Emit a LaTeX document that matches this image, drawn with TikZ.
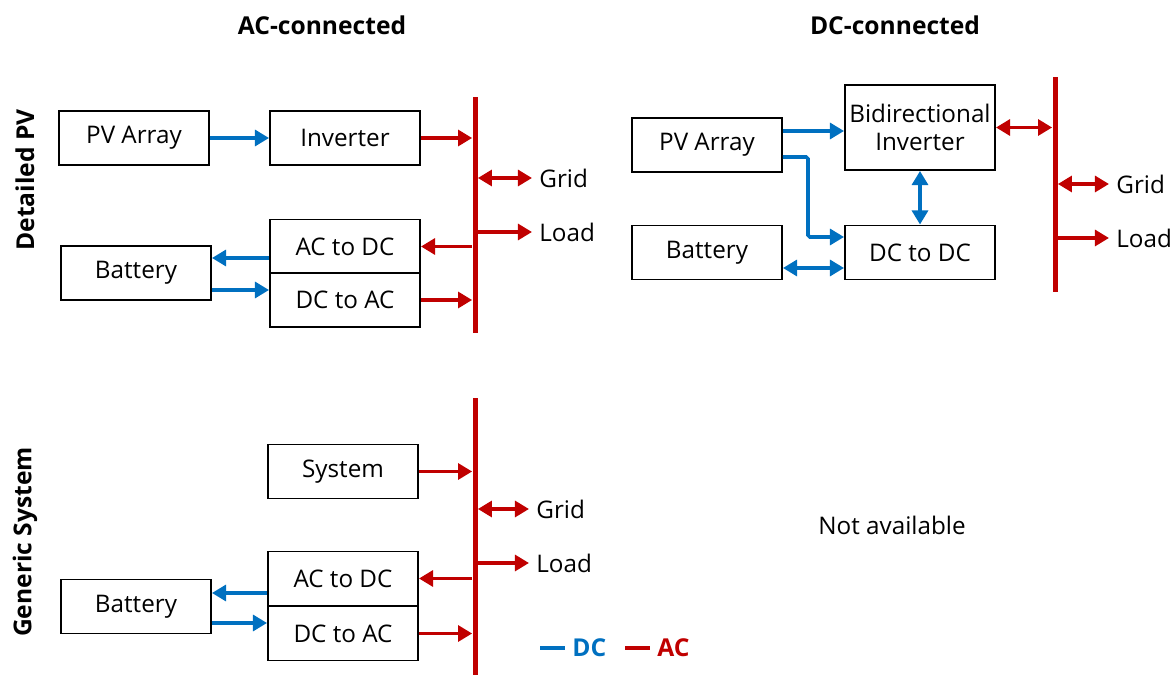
\documentclass[tikz,border=0pt]{standalone}
\usepackage{fontspec}
\setmainfont{Open Sans}
\usetikzlibrary{arrows.meta}
\definecolor{dcblue}{RGB}{0,112,192}
\definecolor{acred}{RGB}{192,0,0}
\begin{document}
\begin{tikzpicture}[x=0.02cm,y=-0.02cm,
  txt/.style={font=\fontsize{13.8}{16}\selectfont},
  blk/.style={draw=black,line width=1.1pt,minimum width=3cm,minimum height=1.08cm,inner sep=0pt,txt},
  busbar/.style={fill=acred,draw=none,minimum width=0.1cm,inner sep=0pt},
  hd/.style={font=\fontsize{14}{16}\selectfont\bfseries},
  lbl/.style={txt,anchor=west,inner sep=4pt},
  tipA/.tip={Triangle[length=8pt,width=9pt]},
  dc/.style={dcblue,line width=2pt,-tipA},
  dcb/.style={dcblue,line width=2pt,tipA-tipA},
  ac/.style={acred,line width=2pt,-tipA},
  acb/.style={acred,line width=2pt,tipA-tipA}]
\useasboundingbox (0,0) rectangle (1174,675);
% headings
\node[hd] (h1) at (322,25) {AC-connected};
\node[hd] (h2) at (895,25) {DC-connected};
\node[hd,rotate=90] (r1) at (25,180) {Detailed PV};
\node[hd,rotate=90] (r2) at (25,542) {Generic System};
% ---------- top left ----------
\node[blk] (pv1) at (134,138) {PV Array};
\node[blk] (inv1) at (345,138) {Inverter};
\node[blk] (acdc1) at (345,246.5) {AC to DC};
\node[blk] (dcac1) at (345,300) {DC to AC};
\node[blk] (bat1) at (136,273) {Battery};
\node[busbar,minimum height=4.72cm] (bus1) at (475,215) {};
\node[lbl] (grid1) at (532,178) {Grid};
\node[lbl] (load1) at (532,232) {Load};
\draw[dc] (pv1.east) -- (inv1.west);
\draw[ac] (inv1.east) -- (inv1.east -| bus1.west);
\draw[acb] (bus1.east |- grid1.west) -- (grid1.west);
\draw[ac] (bus1.east |- load1.west) -- (load1.west);
\draw[ac] (acdc1.east -| bus1.west) -- (acdc1.east);
\draw[ac] (dcac1.east) -- (dcac1.east -| bus1.west);
\draw[dc] (acdc1.west |- 0,258) -- (bat1.east |- 0,258);
\draw[dc] (bat1.east |- 0,290) -- (dcac1.west |- 0,290);
% ---------- top right ----------
\node[blk] (pv2) at (707,145) {PV Array};
\node[blk,minimum height=1.7cm,align=center] (inv2) at (920,127.5) {Bidirectional\\Inverter};
\node[blk] (dd2) at (920,252.5) {DC to DC};
\node[blk] (bat2) at (707,252.5) {Battery};
\node[busbar,minimum height=4.3cm] (bus2) at (1055,184.5) {};
\node[lbl] (grid2) at (1109,184) {Grid};
\node[lbl] (load2) at (1109,238) {Load};
\draw[dc] (pv2.east |- 0,131) -- (inv2.west |- 0,131);
\draw[dc,rounded corners=1pt] (pv2.east |- 0,157) -- (808,157) -- (808,237) -- (dd2.west |- 0,237);
\draw[dcb] (inv2.south) -- (dd2.north);
\draw[dcb] (bat2.east |- 0,268) -- (dd2.west |- 0,268);
\draw[acb] (inv2.east) -- (inv2.east -| bus2.west);
\draw[acb] (bus2.east |- grid2.west) -- (grid2.west);
\draw[ac] (bus2.east |- load2.west) -- (load2.west);
% ---------- bottom left ----------
\node[blk] (sys3) at (343,471.5) {System};
\node[blk] (acdc3) at (343,578.5) {AC to DC};
\node[blk] (dcac3) at (343,633.5) {DC to AC};
\node[blk] (bat3) at (136,606.5) {Battery};
\node[busbar,minimum height=5.54cm] (bus3) at (475,536.5) {};
\node[lbl] (grid3) at (529,509) {Grid};
\node[lbl] (load3) at (529,563) {Load};
\draw[ac] (sys3.east) -- (sys3.east -| bus3.west);
\draw[acb] (bus3.east |- grid3.west) -- (grid3.west);
\draw[ac] (bus3.east |- load3.west) -- (load3.west);
\draw[ac] (acdc3.east -| bus3.west) -- (acdc3.east);
\draw[ac] (dcac3.east) -- (dcac3.east -| bus3.west);
\draw[dc] (acdc3.west |- 0,593) -- (bat3.east |- 0,593);
\draw[dc] (bat3.east |- 0,623) -- (dcac3.west |- 0,623);
% not available
\node[txt] (na) at (892,525) {Not available};
% legend
\draw[dcblue,line width=2pt] (540,648) -- (565,648);
\node[hd,text=dcblue,anchor=west,inner sep=0pt] (ldc) at (572,648) {DC};
\draw[acred,line width=2pt] (625,648) -- (650,648);
\node[hd,text=acred,anchor=west,inner sep=0pt] (lac) at (657,648) {AC};
\end{tikzpicture}
\end{document}
